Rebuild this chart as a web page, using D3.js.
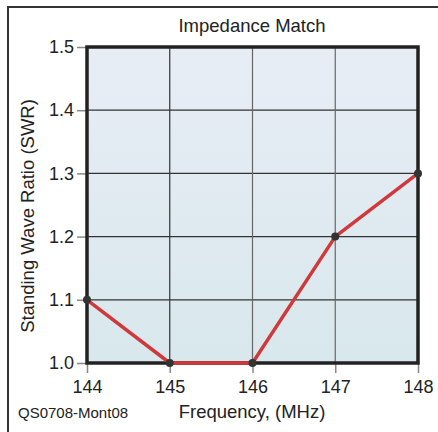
<!DOCTYPE html>
<html><head><meta charset="utf-8">
<script src="https://cdn.jsdelivr.net/npm/d3@7"></script>
<style>body{margin:0;background:#fff}svg{display:block;font-family:"Liberation Sans",Arial,sans-serif}</style>
</head><body><svg id="c" width="438" height="432"></svg>
<script>
const freq = [144, 145, 146, 147, 148];
const swr = [1.1, 1.0, 1.0, 1.2, 1.3];
const xTicks = [144, 145, 146, 147, 148];
const yTicks = [1.0, 1.1, 1.2, 1.3, 1.4, 1.5];
const title = "Impedance Match";
const xTitle = "Frequency, (MHz)";
const yTitle = "Standing Wave Ratio (SWR)";
const footer = "QS0708-Mont08";

const svg = d3.select("#c");
const L = 87, R = 418, T = 47, B = 363;
const x = d3.scaleLinear().domain([144, 148]).range([L, R]);
const y = d3.scaleLinear().domain([1.0, 1.5]).range([B, T]);

// outer frame
svg.append("path").attr("d", "M8,440 V7 H440").attr("fill", "none").attr("stroke", "#333").attr("stroke-width", 2);

const defs = svg.append("defs");
const g = defs.append("linearGradient").attr("id", "bg").attr("x1", 0).attr("y1", 0).attr("x2", 0).attr("y2", 1);
g.append("stop").attr("offset", "0%").attr("stop-color", "#e8edf5");
g.append("stop").attr("offset", "100%").attr("stop-color", "#d8e8ec");
svg.append("rect").attr("x", L).attr("y", T).attr("width", R - L).attr("height", B - T).attr("fill", "url(#bg)");

// grid
svg.append("g").selectAll("line").data(yTicks.slice(1, -1)).join("line")
  .attr("x1", L).attr("x2", R).attr("y1", d => y(d)).attr("y2", d => y(d))
  .attr("stroke", "#333").attr("stroke-width", 1.2);
svg.append("g").selectAll("line").data(xTicks.slice(1, -1)).join("line")
  .attr("y1", T).attr("y2", B).attr("x1", d => x(d)).attr("x2", d => x(d))
  .attr("stroke", (d, i) => i === 0 ? "#333" : "#666").attr("stroke-width", 1.2);

// axes
const yAxis = svg.append("g").attr("transform", `translate(${L},0)`)
  .call(d3.axisLeft(y).tickValues(yTicks).tickFormat(d3.format(".1f")).tickSize(10).tickPadding(3));
const xAxis = svg.append("g").attr("transform", `translate(0,${B})`)
  .call(d3.axisBottom(x).tickValues(xTicks).tickFormat(d3.format("d")).tickSize(10).tickPadding(5));
[yAxis, xAxis].forEach(a => {
  a.select(".domain").remove();
  a.selectAll(".tick line").attr("stroke", "#888").attr("stroke-width", 1.5);
  a.selectAll(".tick text").attr("fill", "#222").style("font-size", "18px");
});
xAxis.selectAll(".tick text").attr("dy", "0.82em");

// plot frame
svg.append("rect").attr("x", L).attr("y", T).attr("width", R - L).attr("height", B - T)
  .attr("fill", "none").attr("stroke", "#222").attr("stroke-width", 3.5);

// line
const data = freq.map((f, i) => ({f, v: swr[i]}));
svg.append("path").datum(data)
  .attr("d", d3.line().x(d => x(d.f)).y(d => y(d.v)))
  .attr("fill", "none").attr("stroke", "#d0393b").attr("stroke-width", 3.5).attr("stroke-linejoin", "round");
svg.append("g").selectAll("circle").data(data).join("circle")
  .attr("cx", d => x(d.f)).attr("cy", d => y(d.v)).attr("r", 4).attr("fill", "#333");

// texts
svg.append("text").attr("x", 252).attr("y", 32).attr("text-anchor", "middle")
  .style("font-size", "18.5px").attr("fill", "#222").text(title);
svg.append("text").attr("x", 252).attr("y", 418).attr("text-anchor", "middle")
  .style("font-size", "18.5px").attr("fill", "#222").text(xTitle);
svg.append("text").attr("transform", `translate(34,216) rotate(-90)`).attr("text-anchor", "middle")
  .style("font-size", "18.5px").attr("fill", "#222").text(yTitle);
svg.append("text").attr("x", 18).attr("y", 418).style("font-size", "15px").attr("fill", "#222").text(footer);
</script></body></html>
